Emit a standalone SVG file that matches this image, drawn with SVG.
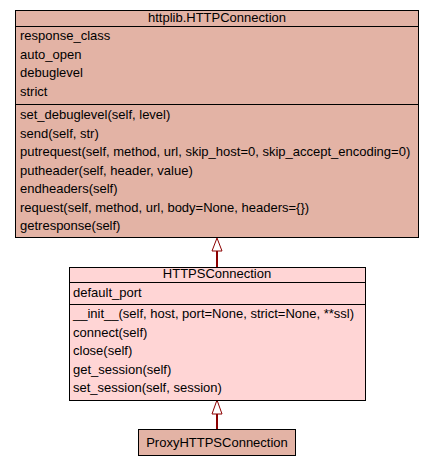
<svg xmlns="http://www.w3.org/2000/svg" width="435" height="467" viewBox="0 0 435 467">
<style>
text{font-family:"Liberation Sans",Arial,Helvetica,sans-serif;font-size:13px;fill:#000}
.c{text-anchor:middle}
.box{stroke:#000;stroke-width:1}
.a{fill:#e3b3a5}
.b{fill:#ffd5d5}
.sep{stroke:#000;stroke-width:1}
.edge{stroke:#8b0000;stroke-width:2;fill:none}
.head{fill:#fff;stroke:#8b0000;stroke-width:1}
</style>
<rect width="435" height="467" fill="#fff"/>
<g id="connectors">
<line class="edge" x1="217" y1="251" x2="217" y2="267"/>
<polygon class="head" points="217,238 212,251 222,251"/>
<line class="edge" x1="217" y1="414" x2="217" y2="429"/>
<polygon class="head" points="217,400 212,414 222,414"/>
</g>
<g id="httplib.HTTPConnection">
<rect class="box a" x="15.5" y="10.5" width="403" height="227"/>
<line class="sep" x1="15.5" y1="26.5" x2="418.5" y2="26.5"/>
<line class="sep" x1="15.5" y1="104.5" x2="418.5" y2="104.5"/>
<text class="c" x="217" y="22">httplib.HTTPConnection</text>
<text x="20" y="40">response_class</text>
<text x="20" y="58.5">auto_open</text>
<text x="20" y="77">debuglevel</text>
<text x="20" y="95.5">strict</text>
<text x="20" y="119">set_debuglevel(self, level)</text>
<text x="20" y="137.5">send(self, str)</text>
<text x="20" y="156">putrequest(self, method, url, skip_host=0, skip_accept_encoding=0)</text>
<text x="20" y="174.5">putheader(self, header, value)</text>
<text x="20" y="193">endheaders(self)</text>
<text x="20" y="211.5">request(self, method, url, body=None, headers={})</text>
<text x="20" y="230">getresponse(self)</text>
</g>
<g id="HTTPSConnection">
<rect class="box b" x="69.5" y="267.5" width="296" height="133"/>
<line class="sep" x1="69.5" y1="282.5" x2="365.5" y2="282.5"/>
<line class="sep" x1="69.5" y1="304.5" x2="365.5" y2="304.5"/>
<text class="c" x="217" y="278">HTTPSConnection</text>
<text x="73" y="297">default_port</text>
<text x="73" y="318">__init__(self, host, port=None, strict=None, **ssl)</text>
<text x="73" y="336.5">connect(self)</text>
<text x="73" y="355">close(self)</text>
<text x="73" y="373.5">get_session(self)</text>
<text x="73" y="392">set_session(self, session)</text>
</g>
<g id="ProxyHTTPSConnection">
<rect class="box a" x="138.5" y="429.5" width="157" height="26"/>
<text class="c" x="217" y="447">ProxyHTTPSConnection</text>
</g>
</svg>
